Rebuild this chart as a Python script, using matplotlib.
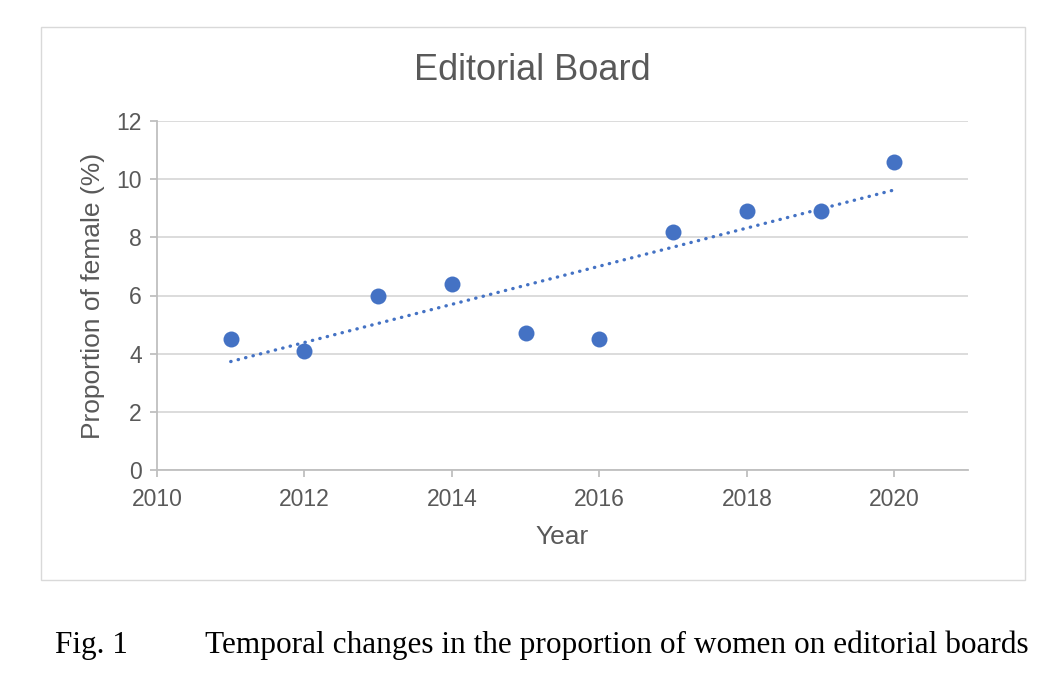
import numpy as np
import matplotlib
matplotlib.use("Agg")
import matplotlib.pyplot as plt
from matplotlib.patches import Rectangle

years = [2011, 2012, 2013, 2014, 2015, 2016, 2017, 2018, 2019, 2020]
female_pct = [4.5, 4.1, 6.0, 6.4, 4.7, 4.5, 8.2, 8.9, 8.9, 10.6]
x_ticks = [2010, 2012, 2014, 2016, 2018, 2020]
y_ticks = [0, 2, 4, 6, 8, 10, 12]

title = "Editorial Board"
xlabel = "Year"
ylabel = "Proportion of female (%)"
caption_num = "Fig. 1"
caption_text = "Temporal changes in the proportion of women on editorial boards"

W, H = 1064, 696
fig = plt.figure(figsize=(W / 100, H / 100), dpi=100)
fig.patch.set_facecolor("white")

# chart frame
fig.patches.append(Rectangle((41 / W, 1 - 580 / H), (1025 - 41) / W, (580 - 27) / H,
                             transform=fig.transFigure, fill=False,
                             edgecolor="#D9D9D9", linewidth=1.0))

ax = fig.add_axes([157 / W, 1 - 470 / H, (968 - 157) / W, (470 - 121) / H])
blue = "#4472C4"
text_col = "#595959"
font = "Liberation Sans"

x = np.array(years, dtype=float)
y = np.array(female_pct, dtype=float)
slope, intercept = np.polyfit(x, y, 1)
ax.plot([x[0], x[-1]], [slope * x[0] + intercept, slope * x[-1] + intercept],
        color=blue, linewidth=2.4, linestyle=(0, (0.1, 2.2)),
        dash_capstyle="round", zorder=3)
ax.plot(x, y, linestyle="none", marker="o", markersize=11.5,
        color=blue, markeredgewidth=0, zorder=4)

ax.set_xlim(2010, 2021)
ax.set_ylim(0, 12)
ax.set_xticks(x_ticks)
ax.set_yticks(y_ticks)
ax.grid(axis="y", color="#D9D9D9", linewidth=1.3)
ax.set_axisbelow(True)
for s in ["top", "right"]:
    ax.spines[s].set_visible(False)
for s in ["left", "bottom"]:
    ax.spines[s].set_color("#BFBFBF")
    ax.spines[s].set_linewidth(1.3)
ax.tick_params(axis="both", colors="#BFBFBF", length=5, width=1.3,
               labelcolor=text_col, labelsize=16.5)
for lab in ax.get_xticklabels() + ax.get_yticklabels():
    lab.set_fontfamily(font)
ax.tick_params(axis="x", pad=8)
ax.tick_params(axis="y", pad=6)

ax.set_xlabel(xlabel, fontsize=19, color=text_col, family=font, labelpad=10)
ax.set_ylabel(ylabel, fontsize=19, color=text_col, family=font, labelpad=8)

fig.text(532 / W, 1 - 70 / H, title, ha="center", va="center",
         fontsize=26, color=text_col, family=font)

fig.text(55 / W, 1 - 645 / H, caption_num, ha="left", va="center",
         fontsize=22.5, color="black", family="Liberation Serif")
fig.text(205 / W, 1 - 645 / H, caption_text, ha="left", va="center",
         fontsize=22.5, color="black", family="Liberation Serif")

fig.savefig("out.png", dpi=100)
